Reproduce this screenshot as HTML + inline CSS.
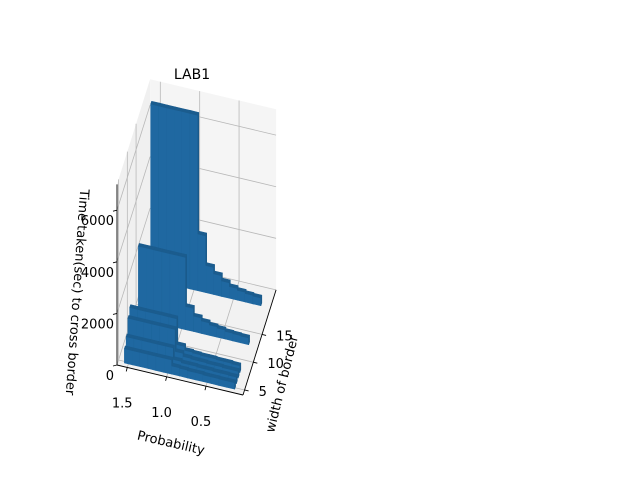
<!DOCTYPE html>
<html><head><meta charset="utf-8"><style>
body{margin:0;background:#fff;}
svg{display:block;font-family:"DejaVu Sans","Liberation Sans",sans-serif;}
</style></head><body>
<svg id="chart" width="640" height="480" viewBox="0 0 640 480" xmlns="http://www.w3.org/2000/svg">
<rect width="640" height="480" fill="#fff"/>
<text x="192" y="79" font-size="14" text-anchor="middle">LAB1</text>
<g id="panes"></g>
<g id="grid"></g>
<g id="bars"></g>
<g id="axes"></g>
<text x="0" y="0" font-size="13" text-anchor="middle" transform="translate(170,447) rotate(13)">Probability</text>
<text x="0" y="0" font-size="13" text-anchor="middle" transform="translate(286,385) rotate(-76)">width of border</text>
<text x="0" y="0" font-size="13" text-anchor="middle" transform="translate(73,292) rotate(94)">Time taken(sec) to cross border</text>
</svg>
<script>
const rowWidths = [20, 13, 8, 7, 6, 5];
const probValues = [1.5,1.4,1.3,1.2,1.1,1.0,0.9,0.8,0.7,0.6,0.5,0.4,0.3,0.2];
const heightsW20 = [6800,6800,6800,6800,6800,6800,2200,1050,800,600,450,380,330,300];
const heightsW13 = [2800,2800,2800,2800,2800,2800,900,600,480,400,350,300,280,260];
const heightsW8 = [1500,1500,1500,1500,1500,1500,500,350,320,300,300,280,280,260];
const heightsW7 = [1300,1300,1300,1300,1300,1300,450,330,300,300,280,280,260,260];
const heightsW6 = [800,800,800,800,800,800,350,300,300,280,280,260,260,250];
const heightsW5 = [550,550,550,550,550,550,320,300,280,280,260,260,250,250];
const rowHeights = [heightsW20, heightsW13, heightsW8, heightsW7, heightsW6, heightsW5];
const zTicks = [0, 2000, 4000, 6000];
const pTicks = [1.5, 1.0, 0.5];
const pTickLabels = ["1.5", "1.0", "0.5"];
const wTicks = [5, 10, 15];

const NS = "http://www.w3.org/2000/svg";
const P0 = 1.63, P1 = 0.03, W0 = 4.1, W1 = 23, Z1 = 7000;
function proj(p, w, z) {
  return [117 + (P0 - p) * 78.75 + (w - W0) * 1.75, 365 + (P0 - p) * 18.75 - (w - W0) * 5.56 - z * 0.0258];
}
function poly(parent, pts, fill, stroke) {
  const e = document.createElementNS(NS, "polygon");
  e.setAttribute("points", pts.map(q => q[0].toFixed(1) + "," + q[1].toFixed(1)).join(" "));
  e.setAttribute("fill", fill);
  if (stroke) { e.setAttribute("stroke", stroke); e.setAttribute("stroke-width", "0.6"); e.setAttribute("stroke-linejoin", "round"); }
  parent.appendChild(e);
  return e;
}
function line(parent, a, b, color, wdt) {
  const e = document.createElementNS(NS, "line");
  e.setAttribute("x1", a[0]); e.setAttribute("y1", a[1]);
  e.setAttribute("x2", b[0]); e.setAttribute("y2", b[1]);
  e.setAttribute("stroke", color); e.setAttribute("stroke-width", wdt);
  parent.appendChild(e);
  return e;
}
function text(parent, x, y, s, anchor) {
  const e = document.createElementNS(NS, "text");
  e.setAttribute("x", x); e.setAttribute("y", y);
  e.setAttribute("font-size", "13"); e.setAttribute("text-anchor", anchor);
  e.textContent = s;
  parent.appendChild(e);
  return e;
}
const panes = document.getElementById("panes");
let pn;
pn = poly(panes, [proj(P0,W0,0), proj(P1,W0,0), proj(P1,W1,0), proj(P0,W1,0)], "#f2f2f2");


pn = poly(panes, [proj(P0,W0,0), proj(P0,W1,0), proj(P0,W1,Z1), proj(P0,W0,Z1)], "#f0f0f0");


pn = poly(panes, [proj(P0,W1,0), proj(P1,W1,0), proj(P1,W1,Z1), proj(P0,W1,Z1)], "#f5f5f5");



const grid = document.getElementById("grid");
const gc = "#b8b8b8";
pTicks.forEach(p => {
  let g = line(grid, proj(p,W0,0), proj(p,W1,0), gc, 0.8);
  
  
  g = line(grid, proj(p,W1,0), proj(p,W1,Z1), gc, 0.8);
  
  
});
wTicks.forEach(w => {
  let g = line(grid, proj(P0,w,0), proj(P1,w,0), gc, 0.8);
  
  
  g = line(grid, proj(P0,w,0), proj(P0,w,Z1), gc, 0.8);
  
  
});
zTicks.forEach(z => {
  let g = line(grid, proj(P0,W0,z), proj(P0,W1,z), gc, 0.8);
  
  
  g = line(grid, proj(P0,W1,z), proj(P1,W1,z), gc, 0.8);
  
  
});

const bars = document.getElementById("bars");
const dp = 0.1, dw = 0.5;
rowWidths.forEach((w, ri) => {
  const hs = rowHeights[ri];
  probValues.forEach((p, pi) => {
    const h = hs[pi];
    const pa = p + dp / 2, pb = p - dp / 2, wa = w - dw / 2, wb = w + dw / 2;
    const g = document.createElementNS(NS, "g");
    
    
    poly(g, [proj(pa,wa,0), proj(pb,wa,0), proj(pb,wa,h), proj(pa,wa,h)], "#1f68a1", "#1f68a1");
    poly(g, [proj(pb,wa,0), proj(pb,wb,0), proj(pb,wb,h), proj(pb,wa,h)], "#1a5a8a", "#1a5a8a");
    poly(g, [proj(pa,wa,h), proj(pb,wa,h), proj(pb,wb,h), proj(pa,wb,h)], "#1b5c8e", "#1b5c8e");
    bars.appendChild(g);
  });
});

const axes = document.getElementById("axes");
let a;
a = line(axes, proj(P0,W0,0), proj(P1,W0,0), "#000", 0.9);


a = line(axes, proj(P1,W0,0), proj(P1,W1,0), "#000", 0.9);


a = line(axes, proj(P0,W0,0), proj(P0,W0,Z1), "#000", 0.9);


pTicks.forEach((p, i) => {
  const q = proj(p, W0, 0);
  let t = line(axes, q, [q[0] - 1, q[1] + 4], "#000", 0.9);
  
  
  t = text(axes, q[0] - 5, q[1] + 40, pTickLabels[i], "middle");
  
  
});
wTicks.forEach(w => {
  const q = proj(P1, w, 0);
  let t = line(axes, q, [q[0] + 4, q[1] + 1], "#000", 0.9);
  
  
  t = text(axes, q[0] + 14, q[1] + 6, String(w), "start");
  
  
});
zTicks.forEach(z => {
  const q = proj(P0, W0, z);
  let t = line(axes, q, [q[0] - 4, q[1] + 1], "#000", 0.9);
  
  
  t = text(axes, q[0] - 3, q[1] + 15, String(z), "end");
  
  
});
</script>
</body></html>
